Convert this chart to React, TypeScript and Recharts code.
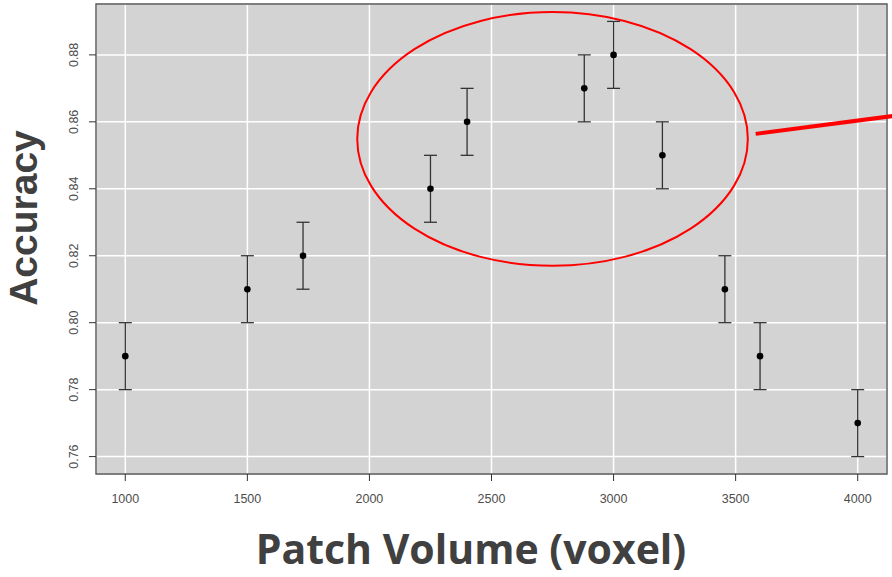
import { ScatterChart, Scatter, XAxis, YAxis, CartesianGrid, ErrorBar, ReferenceArea, ReferenceLine, Label } from 'recharts';

// patch volume (voxels) vs accuracy, +/- error
const volumes = [1000, 1500, 1728, 2250, 2400, 2880, 3000, 3200, 3456, 3600, 4000];
const accuracy = [0.79, 0.81, 0.82, 0.84, 0.86, 0.87, 0.88, 0.85, 0.81, 0.79, 0.77];
const errors = [0.01, 0.01, 0.01, 0.01, 0.01, 0.01, 0.01, 0.01, 0.01, 0.01, 0.01];

const xTicks = [1000, 1500, 2000, 2500, 3000, 3500, 4000];
const yTicks = [0.76, 0.78, 0.80, 0.82, 0.84, 0.86, 0.88];
const xDomain = [880, 4120];
const yDomain = [0.7548, 0.8952];

// red annotation: ellipse around the peak and a pointer line
const highlightX = [1950, 3550];
const highlightY = [0.817, 0.8928];
const pointerStart = { x: 3582, y: 0.8564 };
const pointerEnd = { x: 4150, y: 0.8618 };

const points = volumes.map((v, i) => ({ x: v, y: accuracy[i], err: errors[i] }));

const tickFont = '"Liberation Sans", Arial, sans-serif';

const XTick = (props: any) => {
    const { x, y, payload } = props;
    return (
        <text x={x} y={y} dy="0.71em" textAnchor="middle" fontSize={12.5} fontFamily={tickFont} fill="#4d4d4d">
            {payload.value}
        </text>
    );
};

const YTick = (props: any) => {
    const { x, y, payload } = props;
    return (
        <text x={x} y={y} transform={`rotate(-90 ${x} ${y})`} textAnchor="middle" fontSize={12.5} fontFamily={tickFont} fill="#4d4d4d">
            {payload.value.toFixed(2)}
        </text>
    );
};

const Ellipse = (props: any) => {
    const { x, y, width, height } = props;
    return <ellipse cx={x + width / 2} cy={y + height / 2} rx={width / 2} ry={height / 2} fill="none" stroke="#ff0000" strokeWidth={2} />;
};

export default function App() {
    return (
        <div style={{ position: 'absolute', left: 0, top: 0, background: '#fff' }}>
            <ScatterChart width={892} height={577} margin={{ top: 4, right: 5, left: 0, bottom: 0 }}>
                <CartesianGrid fill="#d3d3d3" stroke="#ffffff" strokeWidth={1.5} />
                <XAxis
                    type="number"
                    dataKey="x"
                    domain={xDomain}
                    ticks={xTicks}
                    allowDataOverflow
                    height={103}
                    axisLine={false}
                    tickSize={7}
                    tickMargin={13}
                    tickLine={{ stroke: '#333', strokeWidth: 1 }}
                    tick={<XTick />}
                >
                    <Label
                        content={() => (
                            <text x={471} y={564} textAnchor="middle" fontSize={41} fontWeight="bold" fontFamily='"Open Sans", sans-serif' fill="#404040">
                                Patch Volume (voxel)
                            </text>
                        )}
                    />
                </XAxis>
                <YAxis
                    type="number"
                    dataKey="y"
                    domain={yDomain}
                    ticks={yTicks}
                    allowDataOverflow
                    width={96}
                    axisLine={false}
                    tickSize={7}
                    tickMargin={11}
                    tickLine={{ stroke: '#333', strokeWidth: 1 }}
                    tick={<YTick />}
                >
                    <Label
                        content={() => (
                            <text x={37} y={218} transform="rotate(-90 37 218)" textAnchor="middle" fontSize={39} fontWeight="bold" fontFamily={tickFont} fill="#404040">
                                Accuracy
                            </text>
                        )}
                    />
                </YAxis>
                <ReferenceArea
                    x1={xDomain[0]}
                    x2={xDomain[1]}
                    y1={yDomain[0]}
                    y2={yDomain[1]}
                    fill="none"
                    fillOpacity={0}
                    stroke="#555"
                    strokeWidth={1.4}
                    ifOverflow="visible"
                />
                <Scatter data={points} fill="#000" isAnimationActive={false} shape={(p: any) => <circle cx={p.cx} cy={p.cy} r={3.3} fill="#000" />}>
                    <ErrorBar dataKey="err" direction="y" width={6.5} stroke="#333" strokeWidth={1.3} />
                </Scatter>
                <ReferenceArea
                    x1={highlightX[0]}
                    x2={highlightX[1]}
                    y1={highlightY[0]}
                    y2={highlightY[1]}
                    ifOverflow="visible"
                    shape={<Ellipse />}
                />
                <ReferenceLine
                    segment={[pointerStart, pointerEnd]}
                    stroke="#ff0000"
                    strokeWidth={4}
                    ifOverflow="visible"
                />
            </ScatterChart>
        </div>
    );
}
